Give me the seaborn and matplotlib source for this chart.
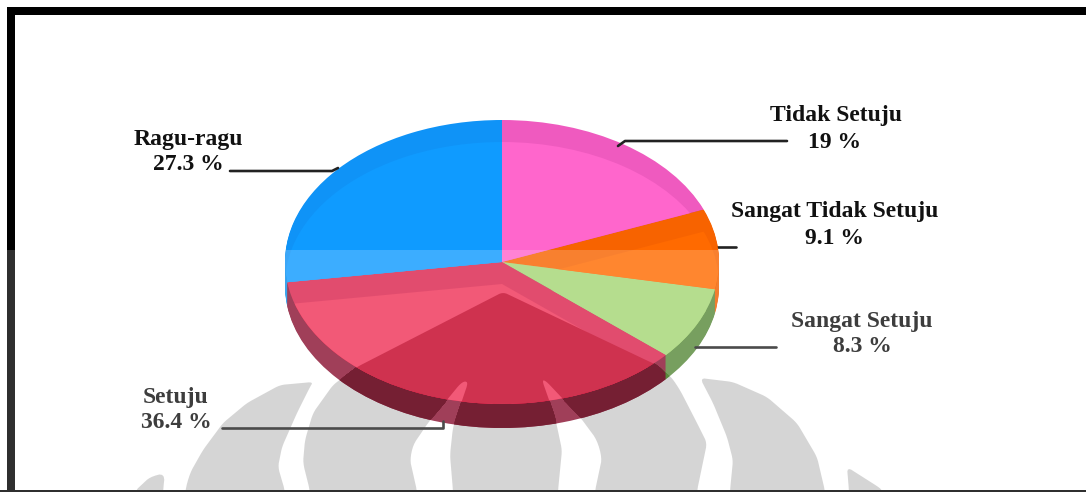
import matplotlib
matplotlib.use("Agg")
import matplotlib.pyplot as plt
import numpy as np
import seaborn as sns
from matplotlib.patches import Ellipse, PathPatch, Rectangle
from matplotlib.path import Path
from matplotlib.transforms import Affine2D

# Survey answers, clockwise from twelve o'clock
categories = ["Tidak Setuju", "Sangat Tidak Setuju", "Sangat Setuju", "Setuju", "Ragu-ragu"]
percentages = [19, 9.1, 8.3, 36.4, 27.3]
value_labels = ["19 %", "9.1 %", "8.3 %", "36.4 %", "27.3 %"]

# Slice shades: lit face, face rim, side wall, and the same under the emblem
face_colors = ["#ff66cc", "#ff6a00", "#a4d675", "#ef3358", "#0f9bff"]
rim_colors = ["#ef5abf", "#f76300", "#a4d675", "#db234d", "#0f93f7"]
wall_colors = ["#c04aa0", "#f06000", "#58893b", "#8a1333", "#0f8fe8"]
shaded_face = ["#ff66cc", "#ff6a00", "#a4d675", "#c40327", "#0f9bff"]
shaded_wall = ["#c04aa0", "#f06000", "#58893b", "#751f33", "#0f8fe8"]

# Label centres and leader lines, in canvas pixels
label_xy = [(836, 116), (835, 212), (862, 321), (176, 397), (188, 140)]
value_xy = [(835, 142), (834, 238), (862, 347), (176, 423), (188, 165)]
leaders = [
    [(618, 146), (625, 141), (787, 141)],
    [(716, 247), (736, 247)],
    [(695, 347), (776, 347)],
    [(222, 428), (443, 428), (443, 421)],
    [(230, 171), (332, 171), (338, 168)],
]

# University emblem behind the chart, in canvas pixels
emblem_core = [
    (503, 292), (357, 367), (333, 385), (313, 413), (305, 440), (303, 463), (310, 491),
    (417, 491), (410, 460), (413, 445), (428, 423), (460, 384), (465, 381), (468, 383),
    (453, 427), (450, 455), (453, 491), (558, 491), (562, 450), (555, 417), (542, 380),
    (546, 381), (580, 417), (597, 440), (602, 458), (595, 491), (697, 491), (707, 443),
    (697, 423), (680, 390), (672, 378), (668, 375), (657, 365), (648, 361),
]
emblem_left = [
    (313, 382), (280, 385), (247, 403), (223, 423), (203, 450), (190, 473), (185, 491),
    (285, 491), (278, 467), (282, 447), (297, 413), (310, 387),
]
emblem_right = [
    (700, 378), (733, 382), (767, 397), (797, 423), (817, 457), (825, 491),
    (730, 491), (733, 460), (727, 437), (713, 403),
]
emblem_far_left = [(165, 473), (163, 491), (135, 491), (150, 477)]
emblem_far_right = [(847, 467), (880, 488), (882, 491), (849, 491)]

WIDTH, HEIGHT = 1086, 492
CX, CY, RX, RY = 502, 262, 217, 142
DEPTH = 24
RIM = 22
VEIL_TOP = 250
VEIL_ALPHA = 0.19
NO_EDGE = {"linewidth": 0, "edgecolor": "none"}

sns.set_theme(style="white")
plt.rcParams["font.family"] = ["Liberation Serif", "DejaVu Serif"]

fig = plt.figure(figsize=(WIDTH / 100, HEIGHT / 100), dpi=100, facecolor="white")
ax = fig.add_axes([0, 0, 1, 1])
to_canvas = Affine2D().translate(-CX, -CY).scale(1 / RX, -1 / RY) + ax.transData


def draw_pie(colors, drop=0.0, zorder=1):
    """One elliptical layer of the pie, lowered by `drop` canvas pixels."""
    wedges, _ = ax.pie(
        percentages,
        colors=sns.color_palette(colors),
        startangle=90,
        counterclock=False,
        center=(0, -drop / RY),
        radius=1,
        wedgeprops=NO_EDGE,
    )
    for wedge in wedges:
        wedge.set_zorder(zorder)
    return wedges


def smooth_path(points, rounds=2, step=10.0):
    """Closed outline with small rounded corners; the bottom runs off the page."""
    outline = []
    for i, (x, y) in enumerate(points):
        outline.append((x, y))
        nx, ny = points[(i + 1) % len(points)]
        if y == 491 and ny == 491:
            outline += [(x, 520), (nx, 520)]
    dense = []
    for i, start in enumerate(outline):
        end = outline[(i + 1) % len(outline)]
        count = max(1, int(np.hypot(end[0] - start[0], end[1] - start[1]) // step))
        for t in np.arange(count) / count:
            dense.append((start[0] + t * (end[0] - start[0]), start[1] + t * (end[1] - start[1])))
    pts = np.array(dense)
    for _ in range(rounds):
        nxt = np.roll(pts, -1, axis=0)
        pts = np.column_stack([0.75 * pts + 0.25 * nxt, 0.25 * pts + 0.75 * nxt]).reshape(-1, 2)
    return Path(np.vstack([pts, pts[:1]]), closed=True)


def veil_patch(zorder):
    return Rectangle((0, VEIL_TOP), WIDTH, HEIGHT - VEIL_TOP, transform=to_canvas, facecolor="white",
                     edgecolor="none", alpha=VEIL_ALPHA, zorder=zorder)


# Emblem shapes
for shape in (emblem_core, emblem_left, emblem_right, emblem_far_left, emblem_far_right):
    ax.add_patch(PathPatch(smooth_path(shape), transform=to_canvas, facecolor="#cccccc",
                           edgecolor="none", zorder=0.5, clip_on=False))

emblem_clip = smooth_path(emblem_core)

# Side wall: stacked layers from the bottom up, then the part shaded by the emblem.
# The largest slice's wall stays in front so the blue slice shows no wall of its own.
front_wall = categories.index("Setuju")
for drop in range(DEPTH, 0, -1):
    draw_pie(wall_colors, drop, zorder=1)[front_wall].set_zorder(1.5)
    for wedge in draw_pie(shaded_wall, drop, zorder=21):
        wedge.set_clip_on(True)
        wedge.set_clip_path(emblem_clip, to_canvas)

# Top face with its darker rim, and the lit inner part kept inside each slice
top_wedges = draw_pie(rim_colors, 0, zorder=22)
for inner, outer in zip(draw_pie(face_colors, RIM, zorder=23), top_wedges):
    inner.set_clip_on(True)
    inner.set_clip_path(outer)

# Emblem showing through the face
for wedge in draw_pie(shaded_face, 0, zorder=24):
    wedge.set_clip_on(True)
    wedge.set_clip_path(emblem_clip, to_canvas)

# Labels and leader lines
for name, value, name_at, value_at, leader in zip(categories, value_labels, label_xy, value_xy, leaders):
    for string, (x, y) in ((name, name_at), (value, value_at)):
        ax.text(x, y, string, transform=to_canvas, ha="center", va="center",
                fontsize=17, fontweight="bold", color="#111111", zorder=10)
    xs, ys = zip(*leader)
    ax.plot(xs, ys, transform=to_canvas, color="#222222", lw=1.9,
            zorder=26 if ys[0] < VEIL_TOP - 30 else 9, scalex=False, scaley=False)

# Page frame
for x, y, w, h in ((7, 7, WIDTH - 7, 8), (7, 7, 8, HEIGHT - 7), (0, 490, WIDTH, 2)):
    ax.add_patch(Rectangle((x, y), w, h, transform=to_canvas, facecolor="black",
                           edgecolor="none", zorder=11, clip_on=False))

# Pale veil over the lower part of the page, once below the pie and once on its face
ax.add_patch(veil_patch(20))
face_veil = veil_patch(25)
ax.add_patch(face_veil)
face_veil.set_clip_path(Ellipse((0, 0), 2, 2, transform=ax.transData))

ax.set_aspect("auto")
ax.set_xlim(-CX / RX, (WIDTH - CX) / RX)
ax.set_ylim((CY - HEIGHT) / RY, CY / RY)
ax.set_position([0, 0, 1, 1])
ax.axis("off")

fig.savefig("out.png", dpi=100, facecolor="white")
